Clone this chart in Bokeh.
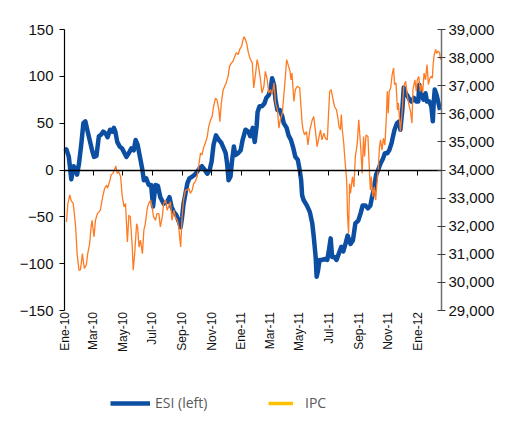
import math
from bokeh.plotting import figure
from bokeh.models import (Range1d, LinearAxis, FixedTicker, NumeralTickFormatter,
                          Legend, LegendItem, ColumnDataSource)
from bokeh.embed import file_html
from bokeh.resources import INLINE

# x positions are days since 1 Jan 2010
tick_days = [0, 59, 120, 181, 243, 304, 365, 424, 485, 546, 608, 669, 730]
tick_labels = ["Ene-10", "Mar-10", "May-10", "Jul-10", "Sep-10", "Nov-10", "Ene-11",
               "Mar-11", "May-11", "Jul-11", "Sep-11", "Nov-11", "Ene-12"]
left_ticks = [-150, -100, -50, 0, 50, 100, 150]
right_ticks = [29000, 30000, 31000, 32000, 33000, 34000, 35000, 36000, 37000, 38000, 39000]
x_last_day = 779

esi_days = [2, 4, 9, 14, 19, 23, 26, 30, 35, 39, 43, 47, 52, 57, 61, 66, 71, 76, 80, 85, 89, 94, 99,
            102, 105, 109, 114, 119, 124, 128, 133, 138, 143, 147, 151, 157, 161, 164, 169, 174, 179,
            183, 188, 193, 198, 205, 212, 217, 221, 226, 231, 236, 240, 243, 246, 250, 254, 258, 264,
            269, 274, 279, 284, 290, 295, 300, 304, 308, 313, 319, 324, 329, 333, 336, 339, 343, 346,
            350, 353, 359, 364, 368, 374, 380, 384, 389, 393, 397, 399, 403, 408, 413, 417, 422, 426,
            429, 433, 436, 440, 445, 450, 453, 459, 463, 468, 473, 477, 482, 486, 489, 491, 494, 501,
            507, 512, 515, 519, 521, 524, 527, 532, 537, 543, 546, 550, 553, 558, 562, 567, 572, 576,
            581, 585, 591, 596, 601, 607, 612, 616, 622, 627, 632, 635, 639, 644, 648, 653, 658, 662,
            667, 671, 676, 678, 682, 687, 692, 694, 698, 701, 705, 709, 713, 717, 722, 727, 731, 733,
            737, 742, 746, 749, 754, 758, 761, 763, 765, 769, 772, 776]
esi_vals = [20, 22, 14, -10, 4, 0, -5, 7, 29, 50, 52, 43, 32, 21, 14, 15, 36, 38, 41, 39, 35, 43, 41,
            45, 41, 30, 25, 23, 18, 14, 18, 23, 21, 32, 27, 11, 0, -11, -9, -16, -16,
            -39, -16, -17, -29, -36, -34, -29, -39, -45, -48, -55, -61, -50, -36, -25, -14, -9, -7,
            -5, -2, 2, 4, 0, -4, 0, 9, 27, 37, 32, 29, 23, 18, 7, -11, -7, 9,
            25, 16, 18, 21, 32, 43, 41, 36, 45, 30, 47, 62, 68, 68, 71, 77, 80, 87,
            98, 91, 75, 64, 64, 57, 50, 45, 37, 32, 23, 14, 11, 0, -11, -27, -32, -38,
            -45, -57, -71, -93, -114, -107, -96, -96, -95, -96, -87, -73, -93, -93, -96, -89, -82, -87,
            -78, -70, -79, -75, -57, -54, -46, -38, -38, -41, -38, -30, -21, -5, 0, 7, 12, 18,
            18, 21, 29, 34, 43, 50, 52, 43, 64, 88, 82, 79, 75, 73, 77, 73, 73, 91,
            80, 75, 82, 73, 73, 68, 52, 73, 86, 80, 73, 64]

ipc_days = [4, 7, 11, 14, 18, 21, 23, 26, 30, 33, 37, 39, 41, 45, 48, 52, 55, 57, 61, 64, 68, 71, 74,
            79, 83, 87, 89, 94, 96, 100, 103, 106, 109, 112, 116, 119, 123, 126, 130, 133, 136, 140,
            142, 145, 149, 151, 154, 157, 161, 164, 167, 171, 174, 178, 181, 184, 188, 191, 195, 198,
            202, 205, 209, 212, 215, 219, 222, 226, 229, 233, 236, 240, 243, 246, 250, 254, 257, 260,
            264, 267, 270, 274, 276, 279, 281, 284, 288, 291, 295, 298, 302, 305, 308, 312, 315, 319,
            321, 324, 328, 331, 334, 338, 341, 345, 348, 352, 355, 359, 362, 366, 368, 371, 374, 377,
            380, 382, 385, 388, 391, 395, 398, 401, 405, 408, 412, 415, 419, 422, 426, 429, 433, 436,
            440, 443, 446, 450, 453, 457, 459, 461, 466, 468, 470, 474, 477, 481, 486, 491, 493, 496,
            500, 503, 507, 512, 515, 519, 522, 526, 529, 532, 536, 539, 543, 546, 548, 551, 555, 558,
            562, 565, 567, 570, 572, 574, 577, 580, 583, 585, 587, 589, 591, 595, 598, 601, 605, 608,
            612, 615, 618, 620, 623, 627, 630, 632, 634, 637, 640, 643, 645, 648, 651, 653, 656, 659,
            662, 665, 667, 669, 671, 674, 677, 680, 682, 685, 688, 690, 694, 698, 701, 705, 708, 711,
            715, 718, 720, 724, 727, 729, 732, 735, 737, 740, 743, 746, 749, 752, 754, 757, 760, 762,
            764, 767, 769, 772, 775, 777]
ipc_vals = [32150, 32810, 33110, 32900, 32810, 32330, 31975, 31025, 30430, 30450, 31025, 30740, 30500,
            30620, 31025, 31380, 31975, 32210, 31620, 32210, 32450, 32500, 32570,
            33050, 33350, 33460, 33350, 33640, 33820, 33880, 34000, 34140, 33880, 33940, 33760, 33110,
            32690, 32810, 31440, 32390, 32330, 31260,
            30430, 31025, 32090, 31975, 31260, 31500, 31025, 31860, 32090, 32630, 32810, 32930, 32690,
            32330, 32210, 32450, 32450, 31975,
            32330, 32810, 32930, 32570, 32690, 32870, 32210, 32570, 32330, 32210, 31975, 31260, 32330,
            32930, 33290, 33290, 33350, 33170,
            33290, 33520, 33580, 33760, 34000, 34360, 34600, 34540, 34830, 34950, 35190, 35550, 35790,
            35900, 36260, 36560, 36500, 36140,
            35720, 36380, 36860, 36980, 37100, 37330, 37690, 37810, 37860, 38050, 38170, 38110, 38290,
            38400, 38580, 38740, 38640, 38460,
            38170, 38050, 37900, 37810, 36920, 37450, 37930, 37690, 37210, 36740, 36980, 37510, 37210,
            36740, 36860, 36680, 37100, 36380,
            36140, 35490, 35790, 36020, 36620, 37450, 37930, 37810, 37510, 37210, 37450, 36440, 36860,
            36980, 36920, 35670, 35430, 35250,
            35370, 34890, 35430, 35790, 35900, 35310, 34830, 35190, 35430, 35070, 35310, 35130, 35070,
            36140, 36800, 36860, 36500, 36260,
            36140, 35850, 35550, 35430, 35970, 35430, 34950, 34240, 33640, 32330, 31740, 33520, 33170,
            33760, 33400, 34480, 34950, 35790,
            34830, 33880, 35190, 34480, 35250, 35190, 34000, 33290, 33760, 33050, 33400, 32930, 33400,
            34000, 34830, 35070, 34710, 35130,
            34890, 35850, 36800, 36020, 36800, 36920, 37390, 37630, 37040, 37100, 36140, 36380, 35370,
            36140, 36980, 37160, 36680, 36380,
            36080, 35670, 36860, 37210, 36800, 37210, 37330, 36800, 37040, 36740, 37450, 37210, 37750,
            37040, 37210, 37330, 37270, 37810,
            38110, 38290, 38150, 38230, 38170, 37930]

series_names = ["ESI (left)", "IPC"]
ESI_COLOR = "#0B4EA2"
IPC_COLOR = "#FF7A21"
IPC_LEGEND_COLOR = "#FFC000"
LABEL_FONT = "Liberation Sans"

# layout (pixels). The plotting frame covers the whole canvas left of the right axis;
# the axes box (where the data ranges live) starts 64 px in, 29 px down, and is 281 px tall.
W, H = 511, 434
RIGHT = 70
BOX_LEFT, BOX_TOP = 64, 29
AXIS_PX = 281
frame_w = W - RIGHT
frame_h = H
days_per_px = x_last_day / (frame_w - BOX_LEFT)
x_start = -BOX_LEFT * days_per_px
l_lo, l_hi = left_ticks[0], left_ticks[-1]
r_lo, r_hi = right_ticks[0], right_ticks[-1]
l_u = (l_hi - l_lo) / AXIS_PX
r_u = (r_hi - r_lo) / AXIS_PX
l_range = (l_hi - (frame_h - BOX_TOP) * l_u, l_hi + BOX_TOP * l_u)
r_range = (r_hi - (frame_h - BOX_TOP) * r_u, r_hi + BOX_TOP * r_u)

p = figure(width=W, height=H, output_backend="svg", toolbar_location=None,
           x_range=Range1d(x_start, x_last_day), y_range=Range1d(*l_range),
           x_axis_location=None, y_axis_location=None,
           min_border_left=0, min_border_right=RIGHT, min_border_top=0,
           min_border_bottom=0)
p.outline_line_color = None
p.xgrid.visible = False
p.ygrid.visible = False
p.background_fill_color = "white"
p.border_fill_color = "white"

p.extra_y_ranges = {"ipc": Range1d(*r_range)}

# left axis, drawn at day 0
ax_l = LinearAxis(ticker=FixedTicker(ticks=left_ticks), bounds=(l_lo, l_hi), fixed_location=0)
ax_l.axis_line_color = "black"
ax_l.axis_line_width = 1.2
ax_l.major_tick_line_color = "black"
ax_l.major_tick_out = 5
ax_l.major_tick_in = 0
ax_l.minor_tick_line_color = None
ax_l.major_label_standoff = 6
ax_l.major_label_text_font = LABEL_FONT
ax_l.major_label_text_font_size = "15px"
ax_l.major_label_text_color = "#111111"
p.add_layout(ax_l, "left")

# right axis
ax_r = LinearAxis(y_range_name="ipc", ticker=FixedTicker(ticks=right_ticks),
                  formatter=NumeralTickFormatter(format="0,0"), bounds=(r_lo, r_hi))
ax_r.axis_line_color = "#6f6f6f"
ax_r.axis_line_width = 1.5
ax_r.major_tick_line_color = "#3f3f3f"
ax_r.major_tick_out = 4
ax_r.major_tick_in = 4
ax_r.minor_tick_line_color = None
ax_r.major_label_standoff = 3
ax_r.major_label_text_font = LABEL_FONT
ax_r.major_label_text_font_size = "15px"
ax_r.major_label_text_color = "#111111"
p.add_layout(ax_r, "right")

# date axis drawn along the zero line; its labels are pushed below the axes box
ax_0 = LinearAxis(ticker=FixedTicker(ticks=tick_days), fixed_location=0,
                  bounds=(0, x_last_day),
                  major_label_overrides=dict(zip(tick_days, tick_labels)))
ax_0.axis_line_color = "black"
ax_0.axis_line_width = 1.5
ax_0.major_tick_line_color = "black"
ax_0.major_tick_out = 5
ax_0.major_tick_in = 0
ax_0.minor_tick_line_color = None
ax_0.major_label_orientation = math.pi / 2
ax_0.major_label_standoff = 137
ax_0.major_label_text_font = LABEL_FONT
ax_0.major_label_text_font_size = "12px"
ax_0.major_label_text_color = "#111111"
p.add_layout(ax_0, "below")

esi_src = ColumnDataSource(dict(x=esi_days, y=esi_vals))
ipc_src = ColumnDataSource(dict(x=ipc_days, y=ipc_vals))

r_esi = p.line("x", "y", source=esi_src, line_color=ESI_COLOR, line_width=4.5, line_join="round")
r_ipc = p.line("x", "y", source=ipc_src, line_color=IPC_COLOR, line_width=1.3, y_range_name="ipc")
# legend-only swatch for IPC (the legend uses a yellow key); it has no visible data
r_ipc_leg = p.line(x=[ipc_days[0], ipc_days[1]], y=[float("nan"), float("nan")],
                   line_color=IPC_LEGEND_COLOR, line_width=3.5, y_range_name="ipc")


def make_legend(label, renderer, loc, gw, standoff):
    return Legend(items=[LegendItem(label=label, renderers=[renderer])], location=loc,
                  orientation="horizontal", glyph_width=gw, glyph_height=18, label_height=18,
                  label_standoff=standoff, padding=0, margin=0, spacing=0,
                  background_fill_alpha=0, border_line_color=None,
                  label_text_font="Open Sans", label_text_font_size="14px",
                  label_text_color="#595959")


LEGEND_Y = 22  # px above the canvas bottom
p.add_layout(make_legend(series_names[0], r_esi, (110, LEGEND_Y), 40, 5), "center")
p.add_layout(make_legend(series_names[1], r_ipc_leg, (268, LEGEND_Y), 25, 12), "center")

open("out.html", "w").write(file_html(p, INLINE))
